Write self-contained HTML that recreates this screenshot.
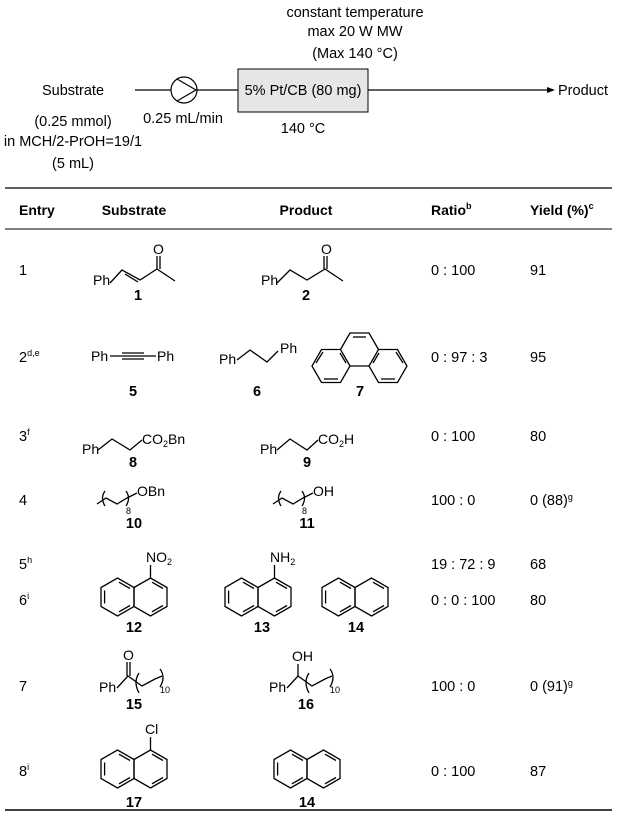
<!DOCTYPE html>
<html><head><meta charset="utf-8"><style>
html,body{margin:0;padding:0;background:#fff}
svg{display:block}
text{font-family:"Liberation Sans",Arial,sans-serif;fill:#000}
.t{font-size:14.5px}
.b{font-size:14px;font-weight:bold}
.s{font-size:14px}
.l{font-size:14.5px;font-weight:bold}
</style></head><body>
<svg width="622" height="819" viewBox="0 0 622 819" xmlns="http://www.w3.org/2000/svg">
<defs>
<g id="nap" stroke="#000" stroke-width="1.3" fill="none">
<polygon points="0,-9.5 -16.5,-19 -33,-9.5 -33,9.5 -16.5,19 0,9.5"/>
<polygon points="0,-9.5 16.5,-19 33,-9.5 33,9.5 16.5,19 0,9.5"/>
<line x1="-29.4" y1="-6.5" x2="-29.4" y2="6.5"/>
<line x1="-15" y1="-14.8" x2="-4" y2="-8.5"/>
<line x1="-15" y1="14.8" x2="-4" y2="8.5"/>
<line x1="18" y1="-14.8" x2="29" y2="-8.5"/>
<line x1="18" y1="14.8" x2="29" y2="8.5"/>
</g>
</defs>

<!-- flow scheme -->
<g stroke="#000" stroke-width="1.2" fill="none">
<line x1="135" y1="90" x2="171" y2="90"/>
<circle cx="184" cy="90" r="13"/>
<polyline points="177,79 196,90 177,101"/>
<line x1="197" y1="90" x2="238" y2="90"/>
<line x1="368" y1="90" x2="549" y2="90"/>
</g>
<rect x="238" y="69" width="130" height="43" fill="#e6e6e6" stroke="#000" stroke-width="1"/>
<polygon points="555,90 547,87 547,93" fill="#000"/>
<g class="t" text-anchor="middle">
<text x="355" y="17">constant temperature</text>
<text x="355" y="36">max 20 W MW</text>
<text x="355" y="58">(Max 140 °C)</text>
<text x="73" y="95">Substrate</text>
<text x="73" y="126">(0.25 mmol)</text>
<text x="73" y="146">in MCH/2-PrOH=19/1</text>
<text x="73" y="168">(5 mL)</text>
<text x="183" y="123">0.25 mL/min</text>
<text x="303" y="133">140 °C</text>
<text x="303" y="95">5% Pt/CB (80 mg)</text>
</g>
<text class="t" x="558" y="95">Product</text>

<!-- table lines -->
<line x1="5" y1="188" x2="612" y2="188" stroke="#000" stroke-width="1.2"/>
<line x1="5" y1="229" x2="612" y2="229" stroke="#000" stroke-width="1"/>
<line x1="5" y1="810" x2="612" y2="810" stroke="#000" stroke-width="1.5"/>

<!-- headers -->
<text class="b" x="19" y="215">Entry</text>
<text class="b" x="134" y="215" text-anchor="middle">Substrate</text>
<text class="b" x="306" y="215" text-anchor="middle">Product</text>
<text class="b" x="431" y="215">Ratio<tspan font-size="9" dy="-6">b</tspan></text>
<text class="b" x="530" y="215">Yield (%)<tspan font-size="9" dy="-6">c</tspan></text>

<!-- entries -->
<g class="t">
<text x="19" y="275">1</text>
<text x="19" y="362">2<tspan font-size="9" dy="-6">d,e</tspan></text>
<text x="19" y="441">3<tspan font-size="9" dy="-6">f</tspan></text>
<text x="19" y="505">4</text>
<text x="19" y="569">5<tspan font-size="9" dy="-6">h</tspan></text>
<text x="19" y="605">6<tspan font-size="9" dy="-6">i</tspan></text>
<text x="19" y="691">7</text>
<text x="19" y="776">8<tspan font-size="9" dy="-6">i</tspan></text>

<text x="431" y="275">0 : 100</text>
<text x="431" y="362">0 : 97 : 3</text>
<text x="431" y="441">0 : 100</text>
<text x="431" y="505">100 : 0</text>
<text x="431" y="569">19 : 72 : 9</text>
<text x="431" y="605">0 : 0 : 100</text>
<text x="431" y="691">100 : 0</text>
<text x="431" y="776">0 : 100</text>

<text x="530" y="275">91</text>
<text x="530" y="362">95</text>
<text x="530" y="441">80</text>
<text x="530" y="505">0 (88)<tspan font-size="9" dy="-5">g</tspan></text>
<text x="530" y="569">68</text>
<text x="530" y="605">80</text>
<text x="530" y="691">0 (91)<tspan font-size="9" dy="-5">g</tspan></text>
<text x="530" y="776">87</text>
</g>

<!-- structures -->
<g stroke="#000" stroke-width="1.3" fill="none">
<!-- 1 -->
<polyline points="110,283 122,270 140,280 157,269 175,281"/>
<line x1="125" y1="274" x2="138" y2="282"/>
<line x1="157" y1="269" x2="157" y2="256"/><line x1="160" y1="269" x2="160" y2="256"/>
<!-- 2 -->
<polyline points="277,283 290,270 307,280 325,269 343,281"/>
<line x1="324" y1="269" x2="324" y2="256"/><line x1="327" y1="269" x2="327" y2="256"/>
<!-- 5 -->
<line x1="110" y1="356" x2="156" y2="356"/>
<line x1="122" y1="353" x2="144" y2="353"/><line x1="122" y1="359" x2="144" y2="359"/>
<!-- 6 -->
<polyline points="237,360 250,350 267,362 278,351"/>
<!-- 7 phenanthrene -->
<polygon points="350,366 340.5,349.5 321.5,349.5 312,366 321.5,382.5 340.5,382.5"/>
<polygon points="369,366 378.5,349.5 397.5,349.5 407,366 397.5,382.5 378.5,382.5"/>
<polyline points="340.5,349.5 350,333 369,333 378.5,349.5"/>
<line x1="350" y1="366" x2="369" y2="366"/>
<line x1="353" y1="337" x2="366" y2="337"/>
<line x1="316" y1="363" x2="323" y2="352"/>
<line x1="324" y1="379" x2="338" y2="379"/>
<line x1="346" y1="363" x2="340" y2="353"/>
<line x1="403" y1="363" x2="396" y2="352"/>
<line x1="381" y1="379" x2="395" y2="379"/>
<line x1="373" y1="363" x2="379" y2="353"/>
<!-- 8 -->
<polyline points="98,450 112,439 130,450 142,440"/>
<!-- 9 -->
<polyline points="277,450 290,439 307,450 318,440"/>
<!-- 10 -->
<polyline points="97,504 106,498 117,504 127,498 137,493"/>
<path d="M105,491 Q100,498 105,506"/><path d="M126,491 Q131,498 126,506"/>
<!-- 11 -->
<polyline points="273,504 282,498 293,504 303,498 313,493"/>
<path d="M281,491 Q276,498 281,506"/><path d="M302,491 Q307,498 302,506"/>
<!-- 12 13 subst bonds -->
<line x1="150.5" y1="578" x2="150.5" y2="565"/>
<line x1="274.5" y1="578" x2="274.5" y2="565"/>
<!-- 15 -->
<polyline points="117,688 128,676 142,686 155,679 162,676"/>
<line x1="127" y1="676" x2="127" y2="662"/><line x1="130" y1="676" x2="130" y2="662"/>
<path d="M139,673 Q133,682 139,693"/><path d="M160,669 Q166,677 160,687"/>
<!-- 16 -->
<polyline points="287,688 298,676 312,686 325,679 332,676"/>
<line x1="298" y1="676" x2="298" y2="664"/>
<path d="M309,673 Q303,682 309,693"/><path d="M330,669 Q336,677 330,687"/>
<!-- 17 subst -->
<line x1="150.5" y1="750" x2="150.5" y2="737"/>
</g>
<use href="#nap" x="134" y="597"/>
<use href="#nap" x="258" y="597"/>
<use href="#nap" x="355" y="597"/>
<use href="#nap" x="134" y="769"/>
<use href="#nap" x="307" y="769"/>

<g class="s">
<text x="93" y="285">Ph</text>
<text x="261" y="285">Ph</text>
<text x="153" y="254">O</text>
<text x="321" y="254">O</text>
<text x="91" y="361">Ph</text>
<text x="157" y="361">Ph</text>
<text x="219" y="364">Ph</text>
<text x="280" y="353">Ph</text>
<text x="82" y="454">Ph</text>
<text x="142" y="444">CO<tspan font-size="9" dy="3">2</tspan><tspan dy="-3">Bn</tspan></text>
<text x="260" y="454">Ph</text>
<text x="318" y="444">CO<tspan font-size="9" dy="3">2</tspan><tspan dy="-3">H</tspan></text>
<text x="137" y="496">OBn</text>
<text x="313" y="496">OH</text>
<text x="126" y="514" font-size="9">8</text>
<text x="302" y="514" font-size="9">8</text>
<text x="146" y="562">NO<tspan font-size="9" dy="3">2</tspan></text>
<text x="270" y="562">NH<tspan font-size="9" dy="3">2</tspan></text>
<text x="99" y="692">Ph</text>
<text x="123" y="660">O</text>
<text x="160" y="693" font-size="9">10</text>
<text x="269" y="692">Ph</text>
<text x="292" y="661">OH</text>
<text x="330" y="693" font-size="9">10</text>
<text x="145" y="734">Cl</text>
</g>

<g class="l" text-anchor="middle">
<text x="138" y="300">1</text>
<text x="306" y="300">2</text>
<text x="133" y="396">5</text>
<text x="257" y="396">6</text>
<text x="360" y="396">7</text>
<text x="133" y="467">8</text>
<text x="307" y="467">9</text>
<text x="134" y="528">10</text>
<text x="307" y="528">11</text>
<text x="134" y="632">12</text>
<text x="262" y="632">13</text>
<text x="356" y="632">14</text>
<text x="134" y="709">15</text>
<text x="306" y="709">16</text>
<text x="134" y="807">17</text>
<text x="307" y="807">14</text>
</g>
</svg>
</body></html>
